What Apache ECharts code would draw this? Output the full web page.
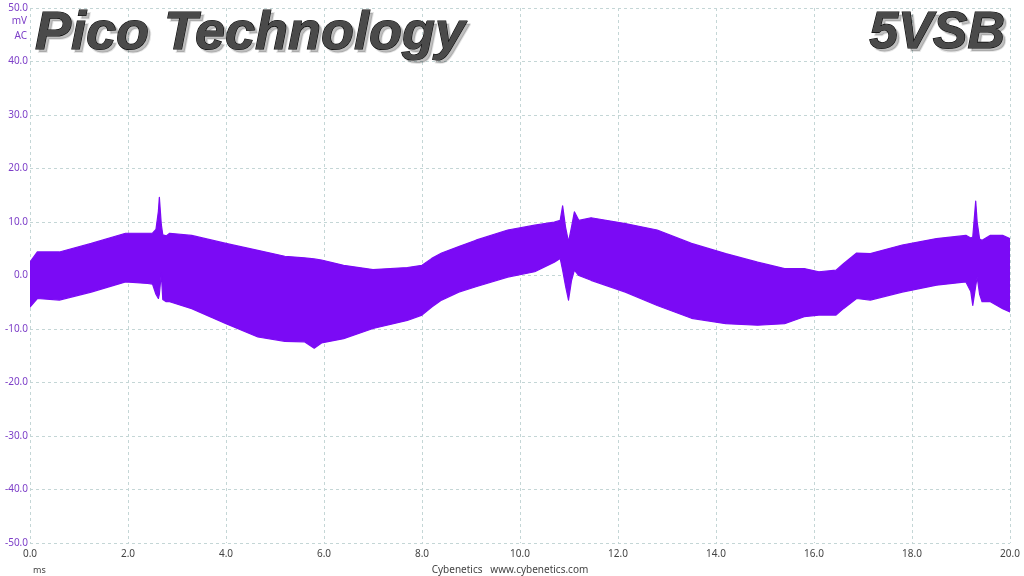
<!DOCTYPE html>
<html>
<head>
<meta charset="utf-8">
<script src="https://cdn.jsdelivr.net/npm/echarts@6/dist/echarts.min.js"></script>
<style>html,body{margin:0;padding:0;background:#fff;}#c{width:1024px;height:576px;}</style>
</head>
<body>
<div id="c"></div>
<script>
// time in ms
var timeMs = [0.0,0.15,0.6,1.25,1.95,2.4,2.5,2.57,2.62,2.64,2.68,2.71,2.78,2.85,3.3,4.0,4.65,5.2,5.6,5.8,5.95,6.4,7.0,7.7,8.0,8.2,8.4,8.75,9.1,9.75,10.3,10.7,10.82,10.87,10.93,10.99,11.05,11.11,11.2,11.45,12.15,12.8,13.5,14.2,14.85,15.4,15.8,16.1,16.45,16.6,16.87,17.15,17.8,18.5,19.1,19.2,19.24,19.3,19.33,19.38,19.43,19.6,19.85,20.0];
// upper envelope of ripple (mV)
var upperMv = [2.5,4.4,4.4,6.0,7.9,7.9,7.9,8.6,12.0,14.6,9.5,7.6,7.4,7.9,7.5,6.0,4.7,3.6,3.3,3.1,2.9,1.9,1.1,1.5,1.9,3.2,4.2,5.4,6.6,8.5,9.4,10.0,10.3,13.0,9.0,6.3,9.0,11.9,10.3,10.8,9.7,8.5,6.0,4.1,2.5,1.3,1.3,0.7,1.0,2.2,4.2,4.1,5.7,6.9,7.5,7.0,7.2,13.9,10.0,6.8,6.6,7.5,7.5,6.9];
// lower envelope of ripple (mV)
var lowerMv = [-5.9,-4.3,-4.6,-3.1,-1.2,-1.5,-1.6,-3.5,-4.3,-3.5,0.4,-4.5,-4.9,-4.9,-6.2,-9.0,-11.5,-12.3,-12.4,-13.6,-12.6,-11.8,-9.9,-8.4,-7.4,-5.9,-4.6,-3.1,-2.1,-0.3,0.7,2.5,3.2,1.0,-2.0,-4.6,-1.0,1.0,0.0,-0.9,-3.1,-5.6,-8.0,-9.0,-9.3,-9.0,-7.7,-7.4,-7.4,-6.2,-4.3,-4.6,-3.1,-1.8,-1.2,-3.0,-5.6,-2.0,-0.3,-3.5,-4.9,-4.9,-6.2,-6.8];

var titleLeft = 'Pico Technology';
var titleRight = '5VSB';

var chart = echarts.init(document.getElementById('c'));
var wave = '#7b0af5';
var envData = timeMs.map(function(t,i){return [t, lowerMv[i], upperMv[i]];});
var split = {show:true,lineStyle:{color:'#c4d6d6',type:[3,3],width:1}};

function renderBand(params, api){
  if (params.dataIndex !== 0) return null;
  var pts = [];
  for (var i = 0; i < timeMs.length; i++) pts.push(api.coord([timeMs[i], upperMv[i]]));
  for (var j = timeMs.length - 1; j >= 0; j--) pts.push(api.coord([timeMs[j], lowerMv[j]]));
  return {type:'polygon', shape:{points:pts}, style:{fill:wave, stroke:wave, lineWidth:1.2, lineJoin:'round'}};
}

function titleText(x, y, txt, size, align){
  var font = 'italic bold ' + size + 'px "Liberation Sans"';
  return [
    {type:'text', x:x+3, y:y+3, z:99, style:{text:txt, fill:'rgba(0,0,0,0.25)', stroke:'rgba(0,0,0,0.1)', lineWidth:2, font:font, align:align, verticalAlign:'top'}},
    {type:'text', x:x, y:y, z:100, style:{text:txt, fill:'#4a4a4a', stroke:'#080808', lineWidth:1.2, font:font, align:align, verticalAlign:'top'}}
  ];
}

var graphics = [
  {type:'text',x:27,y:21,style:{text:'mV',fill:'#7d3fc8',font:'10px "Noto Sans"',align:'right',verticalAlign:'middle'}},
  {type:'text',x:27,y:36,style:{text:'AC',fill:'#7d3fc8',font:'10px "Noto Sans"',align:'right',verticalAlign:'middle'}},
  {type:'text',x:33,y:570,style:{text:'ms',fill:'#444',font:'9px "Noto Sans"',align:'left',verticalAlign:'middle'}},
  {type:'text',x:510,y:570,style:{text:'Cybenetics   www.cybenetics.com',fill:'#444',font:'10px "Noto Sans"',align:'center',verticalAlign:'middle'}}
].concat(titleText(35, 7, titleLeft, 54, 'left')).concat(titleText(1005, 8, titleRight, 52, 'right'));

chart.setOption({
  animation:false,
  backgroundColor:'#fff',
  grid:{left:30,right:14,top:8,bottom:33,containLabel:false},
  xAxis:{type:'value',min:0,max:20,interval:2,
    axisLine:{show:false},axisTick:{show:false},splitLine:split,
    axisLabel:{color:'#444',fontSize:10,fontFamily:'Noto Sans',margin:6,formatter:function(v){return v.toFixed(1);}}},
  yAxis:{type:'value',min:-50,max:50,interval:10,
    axisLine:{show:false},axisTick:{show:false},splitLine:split,
    axisLabel:{color:'#7d3fc8',fontSize:10,fontFamily:'Noto Sans',margin:2,formatter:function(v){return v.toFixed(1);}}},
  series:[
    {type:'custom',data:envData,encode:{x:0,y:[1,2]},renderItem:renderBand,silent:true,clip:true}
  ],
  graphic:graphics
});
</script>
</body>
</html>
